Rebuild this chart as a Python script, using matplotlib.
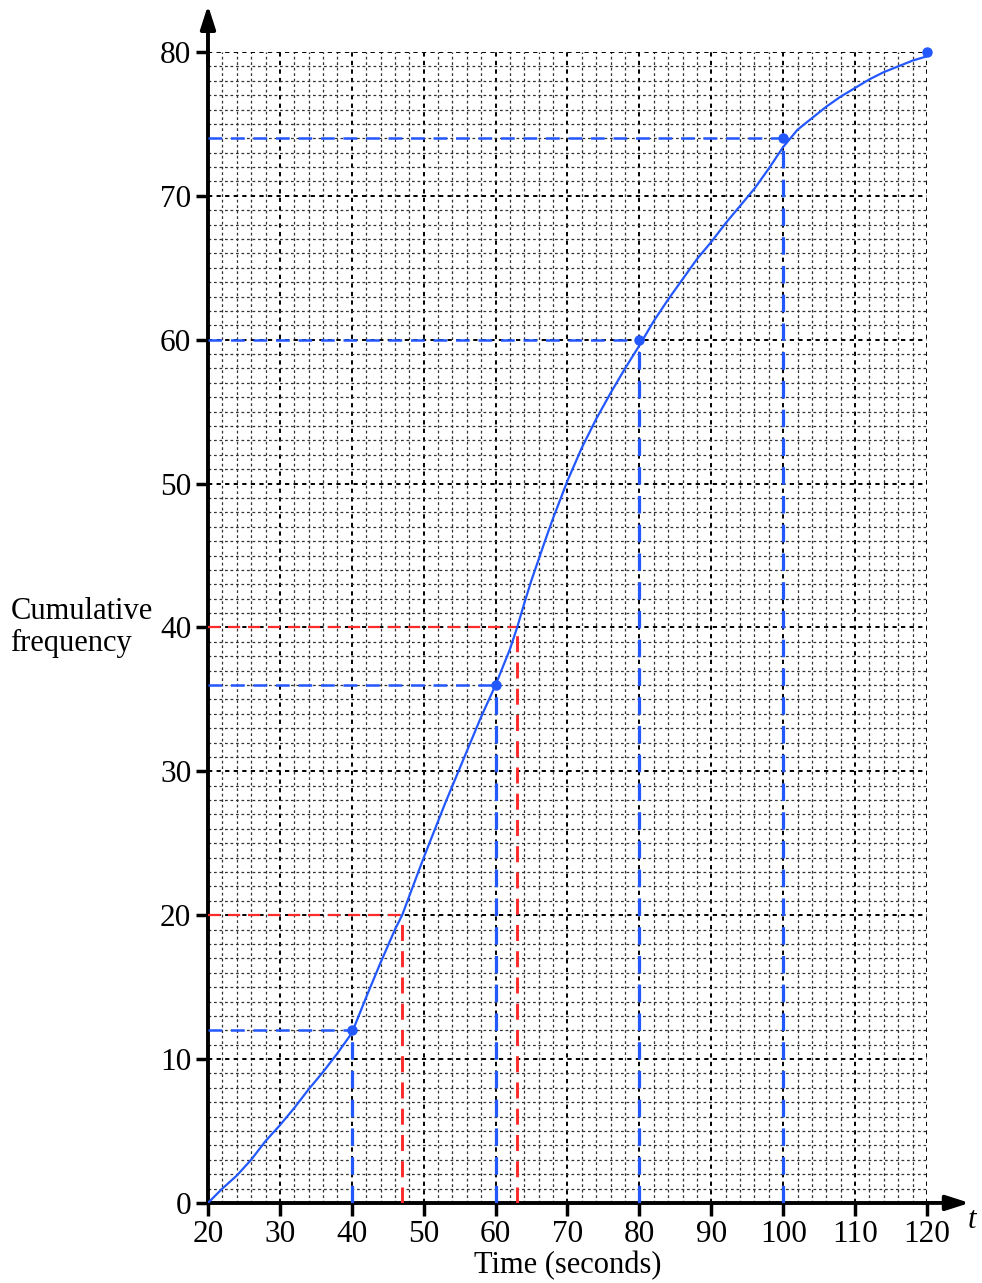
import matplotlib
matplotlib.use("Agg")
from matplotlib import pyplot as plt

plt.rcParams['font.family'] = ['Liberation Serif', 'DejaVu Serif']

# cumulative frequency points (plotted, circled on the graph)
t_points = [40, 60, 80, 100, 120]
cf_points = [12, 36, 60, 74, 80]

# hand-drawn curve
t_curve = [20, 22, 24, 26, 28, 30, 32, 34, 36, 38, 40, 42, 44, 46, 47, 50, 53, 55, 58, 60, 62, 63, 64, 65,
           67, 68, 70, 72, 74, 76, 78, 80, 82, 84, 86, 88, 90, 92, 94, 96, 98, 100, 102, 104, 106,
           108, 110, 112, 114, 116, 118, 120]
cf_curve = [0, 1.0, 1.9, 3.0, 4.3, 5.4, 6.6, 7.9, 9.1, 10.4, 11.8, 14.3, 16.7, 19.0, 20.0, 24.0, 27.8,
            30.2, 33.8, 36.0, 38.5, 40.0, 41.7, 43.3, 46.2, 47.6, 50.2, 52.5, 54.5, 56.3, 58.0, 59.6,
            61.3, 62.8, 64.2, 65.6, 66.8, 68.1, 69.3, 70.5, 71.9, 73.4, 74.6, 75.4, 76.2, 76.9, 77.5,
            78.1, 78.6, 79.0, 79.4, 79.7]

# quartile / median readings (red)
red_cf = [20, 40]
red_t = [47, 63]

blue = '#2458ff'
red = '#ff2a2a'

fig = plt.figure(figsize=(9.82, 12.83), dpi=100)
ax = fig.add_axes([0.2118, 0.0624, 0.7322, 0.8971])

ax.set_xlim(20, 120)
ax.set_ylim(0, 80)

# grid
ax.set_xticks(range(20, 121, 10))
ax.set_yticks(range(0, 81, 10))
ax.set_xticks(range(20, 121, 2), minor=True)
ax.set_yticks(range(0, 81, 1), minor=True)
ax.grid(which='minor', color='#333333', linestyle=(0, (2.2, 2.2)), linewidth=0.9)
ax.grid(which='major', color='black', linestyle=(0, (2.2, 2.2)), linewidth=1.4)
ax.set_axisbelow(True)
ax.tick_params(which='minor', length=0)
ax.tick_params(which='major', length=9, width=2.5, direction='out', labelsize=22.5, pad=3)

for s in ['top', 'right']:
    ax.spines[s].set_visible(False)
for s in ['left', 'bottom']:
    ax.spines[s].set_linewidth(2.8)

# axis arrows
ax.annotate('', xy=(0, 1.043), xytext=(0, 0.99), xycoords='axes fraction',
            arrowprops=dict(arrowstyle='-|>,head_width=0.45,head_length=1.4', lw=2.8, color='black'),
            annotation_clip=False)
ax.annotate('', xy=(1.063, 0), xytext=(0.99, 0), xycoords='axes fraction',
            arrowprops=dict(arrowstyle='-|>,head_width=0.45,head_length=1.4', lw=2.8, color='black'),
            annotation_clip=False)

# construction lines
dash = (0, (5.5, 3.5))
for t, c in zip(t_points[:-1], cf_points[:-1]):
    ax.plot([20, t], [c, c], color=blue, lw=1.8, linestyle=dash, zorder=3)
    ax.plot([t, t], [0, c], color=blue, lw=2.3, linestyle=dash, zorder=3)
for t, c in zip(red_t, red_cf):
    ax.plot([20, t], [c, c], color=red, lw=1.6, linestyle=dash, zorder=3)
    ax.plot([t, t], [0, c], color=red, lw=2.1, linestyle=dash, zorder=3)

# curve
ax.plot(t_curve, cf_curve, color=blue, lw=1.6, zorder=4)
ax.plot(t_points, cf_points, 'o', color=blue, ms=6.5, zorder=5, clip_on=False)

# labels
ax.text(-0.275, 0.5, 'Cumulative\nfrequency', transform=ax.transAxes, fontsize=22,
        ha='left', va='center', linespacing=1.1)
ax.set_xlabel('Time (seconds)', fontsize=22, labelpad=2)
ax.text(1.057, -0.015, 't', transform=ax.transAxes, fontsize=22, style='italic',
        ha='left', va='center')

fig.savefig('out.png', dpi=100)
